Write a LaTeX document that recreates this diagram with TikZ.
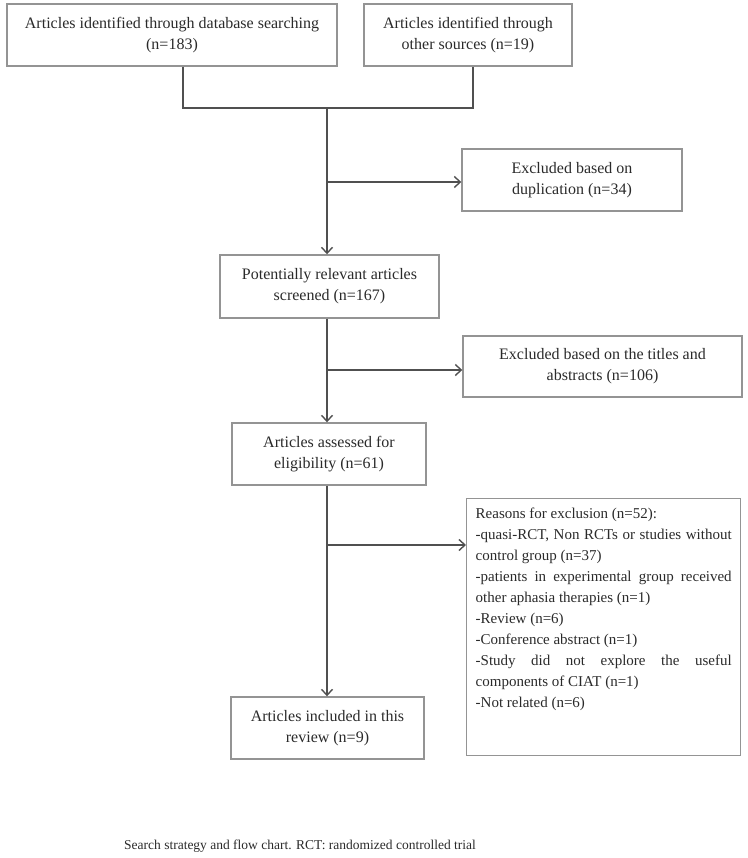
\documentclass[tikz,border=0pt]{standalone}
\usepackage{fontspec}
\setmainfont{Liberation Serif}
\usetikzlibrary{positioning, arrows.meta}
\definecolor{boxgray}{HTML}{949494}
\definecolor{linegray}{HTML}{505050}
\definecolor{textgray}{HTML}{2A2A2A}

\begin{document}
\begin{tikzpicture}[
      x=1pt, y=-1pt,
      every node/.style={font=\fontsize{16}{21}\selectfont, text=textgray},
      box/.style={draw=boxgray, line width=1.4pt, minimum height=62pt, align=center, inner sep=4pt},
      line/.style={draw=linegray, line width=1.4pt},
      arrow/.style={line, -{Straight Barb[length=6pt, width=11pt]}},
    ]
    \useasboundingbox (0,0) rectangle (747,858);

    % identification
    \node[box, minimum width=330pt] (db) at (172,35) {Articles identified through database searching\\(n=183)};
    \node[box, minimum width=208pt] (other) at (468,35) {Articles identified through\\other sources (n=19)};
    \coordinate (jl) at (183,108);
    \coordinate (jr) at (473,108);
    \coordinate (jm) at (327,108);
    \draw[line] (db.south -| jl) -- (jl) -- (jr) -- (other.south -| jr);

    % screening
    \node[box, minimum width=220pt] (dup) at (572,180) {Excluded based on\\duplication (n=34)};
    \node[box, minimum width=219pt, minimum height=63pt] (screened) at (329.5,286.5) {Potentially relevant articles\\screened (n=167)};
    \coordinate (db1) at (327,182);
    \draw[arrow] (jm) -- (screened.north -| jm);
    \draw[arrow] (db1) -- (db1 -| dup.west);

    \node[box, minimum width=279pt, minimum height=61pt] (titles) at (602.5,366.5) {Excluded based on the titles and\\abstracts (n=106)};
    \node[box, minimum width=194pt] (elig) at (329,454) {Articles assessed for\\eligibility (n=61)};
    \coordinate (tb) at (327,370);
    \draw[arrow] (screened.south -| jm) -- (elig.north -| jm);
    \draw[arrow] (tb) -- (tb -| titles.west);

    % eligibility and inclusion
    \node[box, anchor=north west, text width=256pt, align=justify, inner xsep=9pt, inner ysep=9pt,
          font=\fontsize{15}{21}\selectfont] (reasons) at (466,498) {%
      \hyphenpenalty=10000\relax
      Reasons for exclusion (n=52):\\
      -quasi-RCT, Non RCTs or studies without control group (n=37)\par
      -patients in experimental group received other aphasia therapies (n=1)\par
      -Review (n=6)\par
      -Conference abstract (n=1)\par
      -Study did not explore the useful components of CIAT (n=1)\par
      -Not related (n=6)\par\vspace{36pt}};
    \node[box, minimum width=193pt] (incl) at (327.5,728) {Articles included in this\\review (n=9)};
    \coordinate (rb) at (327,545);
    \draw[arrow] (elig.south -| jm) -- (incl.north -| jm);
    \draw[arrow] (rb) -- (rb -| reasons.west);

    \node[font=\fontsize{13.5}{16}\selectfont] (caption) at (300,846) {Search strategy and flow chart. RCT: randomized controlled trial};
  \end{tikzpicture}
\end{document}
